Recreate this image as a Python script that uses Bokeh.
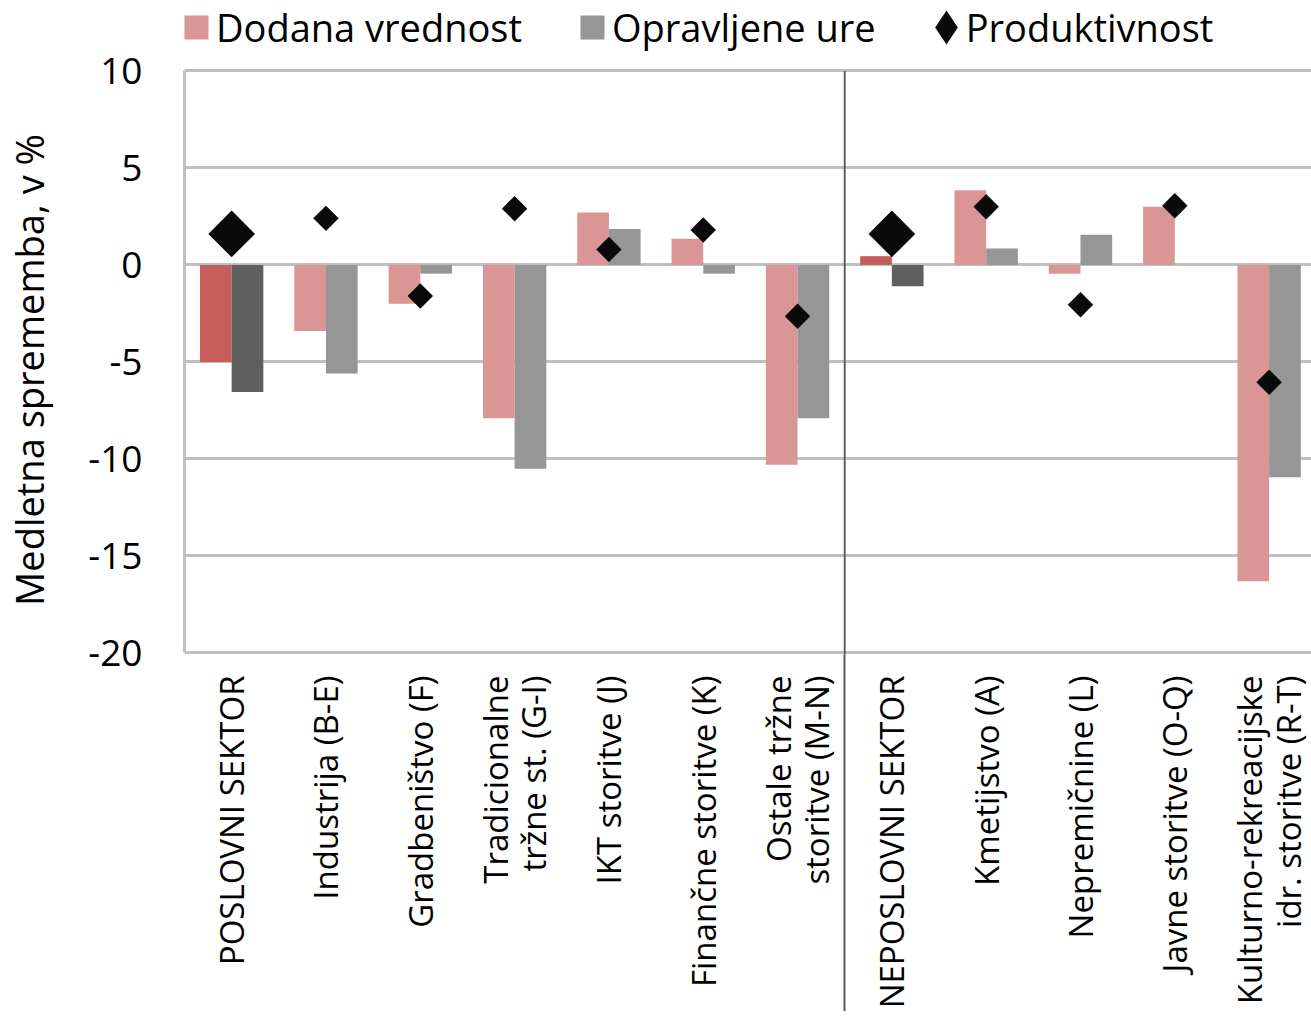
from math import pi
from bokeh.plotting import figure
from bokeh.models import (Range1d, FixedTicker, ColumnDataSource, Legend, LegendItem,
                          BoxAnnotation)
from bokeh.transform import dodge
from bokeh.embed import file_html
from bokeh.resources import INLINE

# ---- data ----
categories = [
    "POSLOVNI SEKTOR", "Industrija (B-E)", "Gradbeništvo (F)",
    "Tradicionalne\ntržne st. (G-I)", "IKT storitve (J)", "Finančne storitve (K)",
    "Ostale tržne\nstoritve (M-N)", "NEPOSLOVNI SEKTOR", "Kmetijstvo (A)",
    "Nepremičnine (L)", "Javne storitve (O-Q)",
    "Kulturno-rekreacijske\nidr. storitve (R-T)",
]
dodana_vrednost = [-5.0, -3.4, -2.0, -7.9, 2.7, 1.35, -10.3, 0.45, 3.85, -0.45, 3.0, -16.3]
opravljene_ure = [-6.55, -5.6, -0.45, -10.5, 1.85, -0.45, -7.9, -1.1, 0.85, 1.55, 0.0, -10.95]
produktivnost = [1.6, 2.4, -1.6, 2.9, 0.8, 1.8, -2.65, 1.6, 3.0, -2.05, 3.05, -6.05]
aggregates = ["POSLOVNI SEKTOR", "NEPOSLOVNI SEKTOR"]
series_names = ["Dodana vrednost", "Opravljene ure", "Produktivnost"]
y_ticks = [-20, -15, -10, -5, 0, 5, 10]
y_tick_labels = ["-20", "-15", "-10", "-5", "0", "5", "10"]
y_title = "Medletna sprememba, v %"

FONT = "Open Sans"
PINK, RED = "#DA9694", "#C55D5A"
GRAY, DGRAY = "#969696", "#5F5F5F"
BLACK = "#0A0A0A"

is_agg = [c in aggregates for c in categories]
n = len(categories)
src = ColumnDataSource(dict(
    idx=list(range(n)),
    dv=dodana_vrednost,
    ou=opravljene_ure,
    pr=produktivnost,
    dv_color=[RED if a else PINK for a in is_agg],
    ou_color=[DGRAY if a else GRAY for a in is_agg],
    pr_size=[33 if a else 18 for a in is_agg],
))

# The frame also covers the legend strip above the "10" line.
p = figure(frame_width=1128, frame_height=648,
           x_range=Range1d(-0.5, 11.46), y_range=Range1d(-20.08, 13.32),
           output_backend="svg", toolbar_location=None,
           min_border_left=175, min_border_right=0, min_border_top=6, min_border_bottom=0)
p.outline_line_color = None
p.background_fill_color = "white"
p.border_fill_color = "white"
p.xgrid.visible = False
p.ygrid.ticker = FixedTicker(ticks=y_ticks)
p.ygrid.grid_line_color = "#BFBFBF"
p.ygrid.grid_line_width = 3

ya = p.yaxis[0]
ya.ticker = FixedTicker(ticks=y_ticks)
ya.bounds = (y_ticks[0], y_ticks[-1])
ya.major_label_overrides = {t: s for t, s in zip(y_ticks, y_tick_labels)}
ya.axis_line_color = "#BFBFBF"
ya.axis_line_width = 3
ya.major_tick_line_color = None
ya.minor_tick_line_color = None
ya.major_label_standoff = 36
ya.major_label_text_font = FONT
ya.major_label_text_font_size = "37px"
ya.major_label_text_color = "black"
# non-breaking spaces keep the title centred on the -20..10 part of the axis
ya.axis_label = y_title + "\u00a0" * 8
ya.axis_label_text_font = FONT
ya.axis_label_text_font_size = "38px"
ya.axis_label_text_font_style = "normal"
ya.axis_label_text_color = "black"
ya.axis_label_standoff = 30

xa = p.xaxis[0]
# minor tick at the sector boundary continues the separator through the label area
xa.ticker = FixedTicker(ticks=list(range(n)), minor_ticks=[6.5])
xa.major_label_overrides = {i: c for i, c in enumerate(categories)}
xa.major_label_orientation = pi / 2
xa.axis_line_color = None
xa.major_tick_line_color = None
xa.major_tick_out = 0
xa.major_tick_in = 0
xa.minor_tick_line_color = "#595959"
xa.minor_tick_line_width = 2
xa.minor_tick_out = 0
xa.minor_tick_in = -370
xa.major_label_standoff = 21
xa.major_label_text_font = FONT
xa.major_label_text_font_size = "33px"
xa.major_label_text_line_height = 0.86
xa.major_label_text_color = "black"

p.vbar(x=dodge("idx", -0.168, range=p.x_range), top="dv", bottom=0, width=0.336,
       fill_color="dv_color", line_color=None, source=src)
p.vbar(x=dodge("idx", 0.168, range=p.x_range), top="ou", bottom=0, width=0.336,
       fill_color="ou_color", line_color=None, source=src)
p.scatter(x="idx", y="pr", marker="square", angle=pi / 4, size="pr_size",
          fill_color=BLACK, line_color=None, source=src)

sep = BoxAnnotation(left=6.49, right=6.51, top=y_ticks[-1], bottom=y_ticks[0] - 1,
                    fill_color="#595959", fill_alpha=1, line_color=None)
p.add_layout(sep)

# legend-only renderers (hidden in the plot) that give the legend symbols
l_dv = p.scatter(x="idx", y="dv", marker="square", fill_color=PINK, line_color=PINK,
                 line_width=8, line_join="miter", source=src, visible=False)
l_ou = p.scatter(x="idx", y="ou", marker="square", fill_color=GRAY, line_color=GRAY,
                 line_width=8, line_join="miter", source=src, visible=False)
l_pr = p.scatter(x="idx", y="pr", marker="diamond", fill_color=BLACK, line_color=BLACK,
                 line_width=10, line_join="miter", source=src, visible=False)

legend = Legend(items=[LegendItem(label=series_names[0], renderers=[l_dv]),
                       LegendItem(label=series_names[1], renderers=[l_ou]),
                       LegendItem(label=series_names[2], renderers=[l_pr])],
                orientation="horizontal", location=(-8, 601),
                glyph_width=40, glyph_height=40, label_standoff=0, spacing=50,
                padding=0, margin=0, border_line_color=None, background_fill_alpha=0,
                inactive_fill_alpha=0, click_policy="none",
                label_text_font=FONT, label_text_font_size="38px", label_text_color="black")
p.add_layout(legend)

open("out.html", "w").write(file_html(p, INLINE))
